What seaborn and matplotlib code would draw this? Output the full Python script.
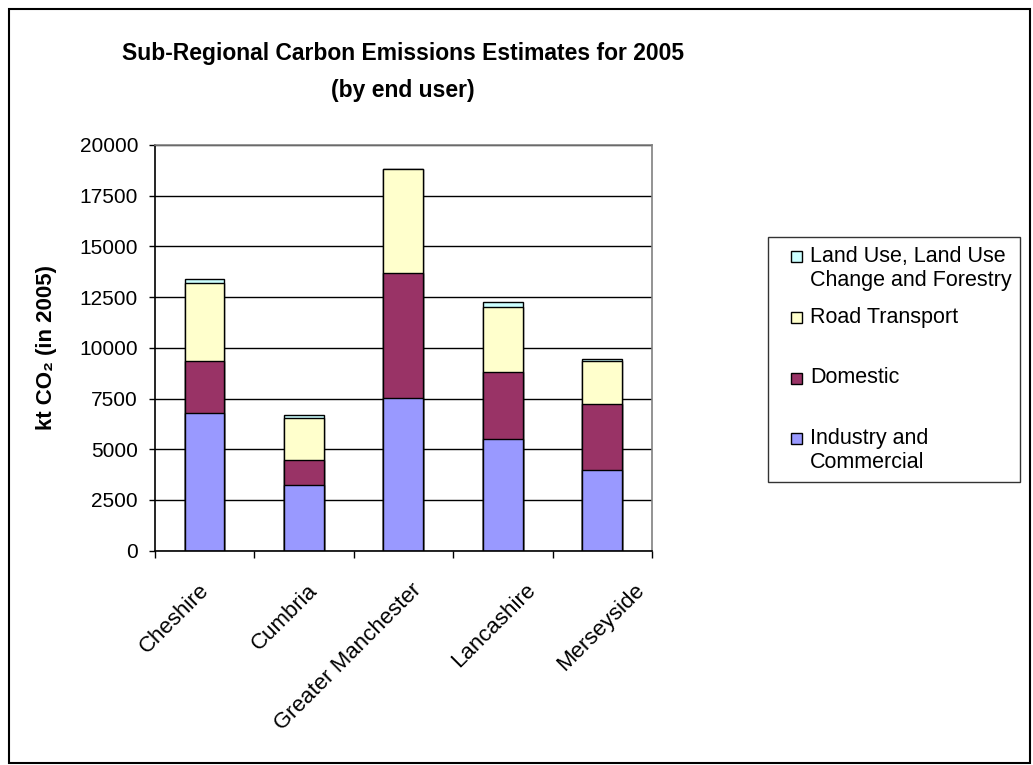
import matplotlib
matplotlib.use("Agg")
import matplotlib.pyplot as plt
from matplotlib.patches import Rectangle, Patch
from matplotlib.legend_handler import HandlerPatch
import seaborn as sns
import numpy as np
import pandas as pd

regions = ["Cheshire", "Cumbria", "Greater Manchester", "Lancashire", "Merseyside"]
industry = [6800, 3240, 7550, 5490, 3980]
domestic = [2570, 1230, 6150, 3300, 3240]
road = [3810, 2070, 5140, 3220, 2140]
landuse = [200, 165, 0, 260, 90]

legend_labels = ["Industry and\nCommercial", "Domestic\n ", "Road Transport\n ",
                 "Land Use, Land Use\nChange and Forestry"]
colors = ["#9999FF", "#993366", "#FFFFCC", "#CCFFFF"]
yticks = [0, 2500, 5000, 7500, 10000, 12500, 15000, 17500, 20000]

sns.set_theme(style="white")
plt.rcParams["font.family"] = ["Liberation Sans", "DejaVu Sans"]
for key in ["text.color", "axes.labelcolor", "xtick.color", "ytick.color"]:
    plt.rcParams[key] = "black"

W, H = 1033, 765
fig = plt.figure(figsize=(W / 100, H / 100), dpi=100)
ax = fig.add_axes([154.7 / W, 1 - 550.7 / H, (652 - 154.7) / W, (550.7 - 145) / H])

layers = [industry, domestic, road, landuse]
cum = np.cumsum(np.array(layers, dtype=float), axis=0)

# draw cumulative totals from the top layer down so lower layers overlay
for k in range(len(layers) - 1, -1, -1):
    df = pd.DataFrame({"region": regions, "value": cum[k]})
    sns.barplot(data=df, x="region", y="value", color=colors[k], saturation=1,
                width=0.4, edgecolor="black", linewidth=1.0, ax=ax, zorder=2)

ax.set_xlim(-0.5, 4.5)
ax.set_ylim(0, 20000)
ax.set_yticks(yticks)
ax.set_yticklabels([str(v) for v in yticks], fontsize=15)
ax.yaxis.grid(True, color="black", linewidth=1.0, zorder=0)
ax.set_axisbelow(True)
ax.tick_params(axis="y", direction="out", length=4, width=1, color="black", left=True, pad=8)

# major ticks at category boundaries, labels on minor ticks (label layout positions)
label_pos = [-0.06, 1.03, 2.08, 3.22, 4.32]
ax.set_xticks(np.arange(-0.5, 5, 1.0))
ax.set_xticklabels([])
ax.set_xticks(label_pos, minor=True)
ax.set_xticklabels(regions, minor=True, fontsize=16, rotation=45, ha="right",
                   va="top", rotation_mode="anchor")
ax.tick_params(axis="x", which="major", direction="out", length=5, width=1, color="black", bottom=True)
ax.tick_params(axis="x", which="minor", length=0, pad=21)
ax.set_xlabel("")
ax.set_ylabel("kt CO\u2082 (in 2005)", fontsize=16, fontweight="bold")
ax.yaxis.set_label_coords((57 - 154.7) / 497.3, (550.7 - 348) / 405.7)

for s in ["left", "bottom"]:
    ax.spines[s].set_color("black")
    ax.spines[s].set_linewidth(1.2)
for s in ["top", "right"]:
    ax.spines[s].set_color("#808080")
    ax.spines[s].set_linewidth(1.2)

fig.text(403 / W, 1 - 72 / H, "Sub-Regional Carbon Emissions Estimates for 2005\n(by end user)",
         ha="center", va="center", fontsize=16.5, fontweight="bold", linespacing=1.75)

def make_patch(legend, orig_handle, xdescent, ydescent, width, height, fontsize):
    s = 8.0
    return Rectangle((-xdescent + width - s, 0.92 * fontsize - s / 2), s, s)

handles = [Patch(facecolor=colors[k], edgecolor="black", linewidth=1.0) for k in range(4)]
order = [3, 2, 1, 0]
leg = fig.legend([handles[k] for k in order], [legend_labels[k] for k in order],
                 loc="upper left", bbox_to_anchor=(768 / W, 1 - 237 / H),
                 fontsize=15.5, frameon=True, fancybox=False, edgecolor="black",
                 handlelength=1.15, handleheight=0.7, handletextpad=0.37,
                 labelspacing=0.72, borderpad=0.42, borderaxespad=0,
                 handler_map={Patch: HandlerPatch(patch_func=make_patch)})
leg.get_frame().set_linewidth(1.0)

fig.patches.append(Rectangle((9 / W, 1 - 763 / H), (1030 - 9) / W, (763 - 9) / H,
                             transform=fig.transFigure, fill=False,
                             edgecolor="black", linewidth=1.5))

fig.savefig("out.png", dpi=100)
